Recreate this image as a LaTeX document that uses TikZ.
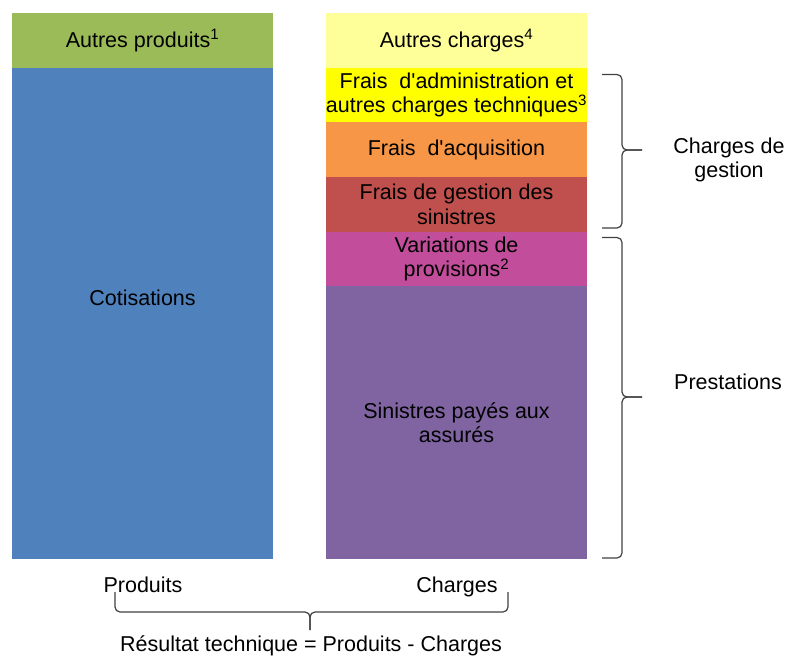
\documentclass[tikz,border=0pt]{standalone}
\usepackage{fontspec}
\setmainfont{Liberation Sans}
\definecolor{cgreen}{HTML}{9BBB59}
\definecolor{cblue}{HTML}{4F81BD}
\definecolor{clyellow}{HTML}{FFFF99}
\definecolor{cyellow}{HTML}{FFFF00}
\definecolor{corange}{HTML}{F79646}
\definecolor{cred}{HTML}{C0504D}
\definecolor{cmagenta}{HTML}{C24D9B}
\definecolor{cpurple}{HTML}{8064A2}
\begin{document}
\begin{tikzpicture}[x=1pt,y=-1pt,
  every node/.style={font=\fontsize{21.5}{24.5}\selectfont, align=center, inner sep=0pt, outer sep=0pt},
  box/.style={minimum width=261pt, draw=none},
  brace/.style={draw=black!75, line width=1.2pt, rounded corners=5pt}]
\useasboundingbox (0,0) rectangle (787,659);
% left column
\node[box, fill=cgreen, minimum height=55pt] (ap) at (142.5,40.5) {Autres produits\textsuperscript{1}};
\node[box, fill=cblue, minimum height=491pt] (cot) at (142.5,313.5) {};
\node (cottxt) at (142.5,298) {Cotisations};
% right column
\node[box, fill=clyellow, minimum height=55pt] (ac) at (456.5,40.5) {Autres charges\textsuperscript{4}};
\node[box, fill=cyellow, minimum height=54pt] (fa) at (456.5,95) {Frais \ d\textquotesingle administration et\\autres charges techniques\textsuperscript{3}};
\node[box, fill=corange, minimum height=55pt] (fq) at (456.5,149.5) {Frais \ d\textquotesingle acquisition};
\node[box, fill=cred, minimum height=54.5pt] (fg) at (456.5,204.25) {Frais de gestion des\\sinistres};
\node[box, fill=cmagenta, minimum height=54.5pt] (vp) at (456.5,258.75) {Variations de\\provisions\textsuperscript{2}};
\node[box, fill=cpurple, minimum height=273pt] (sp) at (456.5,422.5) {Sinistres payés aux\\assurés};
% right braces
\coordinate (b1t) at (602,74.5);
\coordinate (b1c) at (622,150);
\coordinate (b1tip) at (642,150);
\coordinate (b1b) at (602,228);
\draw[brace] (b1t) -| (b1c) -- (b1tip);
\draw[brace] (b1b) -| (b1c) -- (b1tip);
\coordinate (b2t) at (602,237.5);
\coordinate (b2c) at (622,397);
\coordinate (b2tip) at (642,397);
\coordinate (b2b) at (602,558);
\draw[brace] (b2t) -| (b2c) -- (b2tip);
\draw[brace] (b2b) -| (b2c) -- (b2tip);
\node (cg) at (729,160) {Charges de\\gestion};
\node (pr) at (728,382) {Prestations};
% bottom
\node[anchor=base] (prod) at (143,592.5) {Produits};
\node[anchor=base] (charg) at (457,592.5) {Charges};
\coordinate (bl) at (115,592);
\coordinate (br) at (508,592);
\coordinate (bc) at (310,612);
\coordinate (btip) at (310,630);
\draw[brace] (bl) |- (bc) -- (btip);
\draw[brace] (br) |- (bc) -- (btip);
\node (res) at (311,646) {Résultat technique = Produits - Charges};
\end{tikzpicture}
\end{document}
